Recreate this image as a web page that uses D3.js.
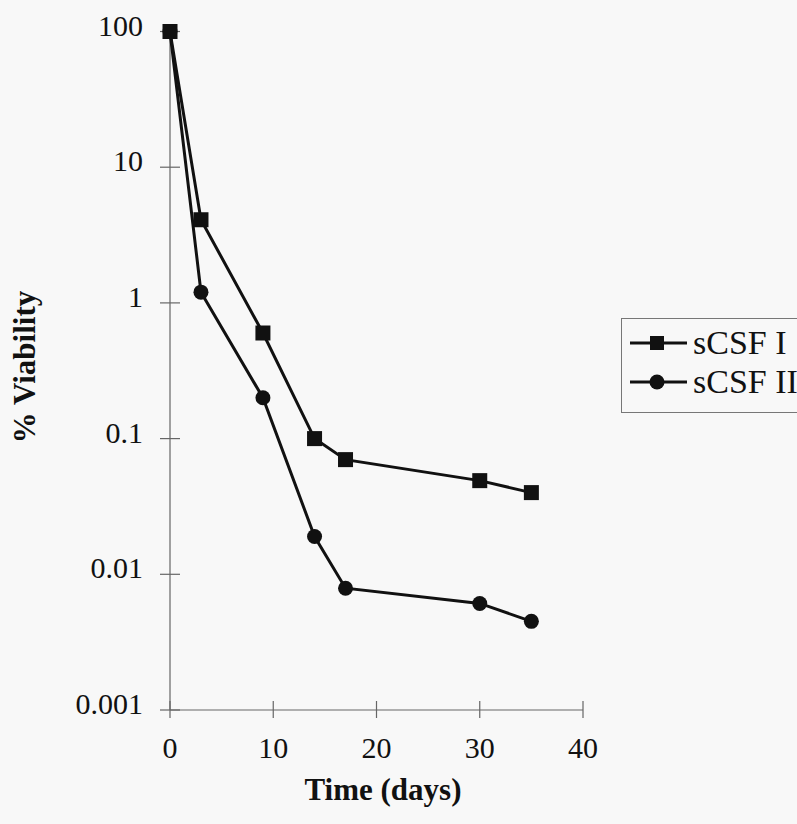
<!DOCTYPE html>
<html>
<head>
<meta charset="utf-8">
<script src="https://cdn.jsdelivr.net/npm/d3@7"></script>
<style>
  body { margin: 0; background: #f8f8f8; }
  svg { display: block; }
  text { font-family: "Liberation Serif", "Times New Roman", serif; fill: #111; }
</style>
</head>
<body>
<div class="chart"></div>
<script>
"use strict";

var days = [0, 3, 9, 14, 17, 30, 35];
var csf1 = [100, 4.1, 0.6, 0.1, 0.07, 0.049, 0.040];
var csf2 = [100, 1.2, 0.2, 0.019, 0.0079, 0.0061, 0.0045];
var seriesNames = ["sCSF I", "sCSF II"];
var xTicks = [0, 10, 20, 30, 40];
var yTicks = [100, 10, 1, 0.1, 0.01, 0.001];
var yTickLabels = ["100", "10", "1", "0.1", "0.01", "0.001"];

var width = 797,
    height = 824;

var svg = d3.select(".chart")
          .append("svg")
          .attr("width", width)
          .attr("height", height);

var x = d3.scaleLinear().domain([0, 40]).range([170, 583]);
var y = d3.scaleLog().domain([0.001, 100]).range([710, 31.5]);

// axes, drawn by hand-ish to get the crossing ticks of the original
var axisColor = "#666";

svg.append("line")
    .attr("x1", x(0)).attr("x2", x(0))
    .attr("y1", y(100)).attr("y2", y(0.001))
    .style("stroke", axisColor).style("stroke-width", 1.2);

svg.append("line")
    .attr("x1", x(0)).attr("x2", x(40))
    .attr("y1", y(0.001)).attr("y2", y(0.001))
    .style("stroke", axisColor).style("stroke-width", 1.2);

svg.append("g")
    .selectAll("line")
    .data(yTicks)
    .enter().append("line")
        .attr("x1", x(0) - 10).attr("x2", x(0) + 10)
        .attr("y1", function(d){ return y(d); })
        .attr("y2", function(d){ return y(d); })
        .style("stroke", axisColor).style("stroke-width", 1.2);

svg.append("g")
    .selectAll("text")
    .data(yTicks)
    .enter().append("text")
        .attr("x", 143)
        .attr("y", function(d){ return y(d) + 4; })
        .attr("text-anchor", "end")
        .style("font-size", "30px")
        .text(function(d, i){ return yTickLabels[i]; });

svg.append("g")
    .selectAll("line")
    .data(xTicks)
    .enter().append("line")
        .attr("x1", function(d){ return x(d); })
        .attr("x2", function(d){ return x(d); })
        .attr("y1", y(0.001) - 9).attr("y2", y(0.001) + 8)
        .style("stroke", axisColor).style("stroke-width", 1.2);

svg.append("g")
    .selectAll("text")
    .data(xTicks)
    .enter().append("text")
        .attr("x", function(d){ return x(d); })
        .attr("y", 758)
        .attr("text-anchor", "middle")
        .style("font-size", "30px")
        .text(function(d){ return d; });

// axis titles
svg.append("text")
    .attr("x", 383).attr("y", 800)
    .attr("text-anchor", "middle")
    .style("font-size", "31px").style("font-weight", "bold")
    .text("Time (days)");

svg.append("text")
    .attr("transform", "translate(35,367) rotate(-90)")
    .attr("text-anchor", "middle")
    .style("font-size", "31px").style("font-weight", "bold")
    .text("% Viability");

// data lines
var line = d3.line()
    .x(function(d){ return x(d[0]); })
    .y(function(d){ return y(d[1]); });

var pts1 = d3.zip(days, csf1),
    pts2 = d3.zip(days, csf2);

svg.append("path")
    .datum(pts2)
    .attr("d", line)
    .style("fill", "none").style("stroke", "#111").style("stroke-width", 3);

svg.append("path")
    .datum(pts1)
    .attr("d", line)
    .style("fill", "none").style("stroke", "#111").style("stroke-width", 3);

svg.append("g")
    .selectAll("circle")
    .data(pts2)
    .enter().append("circle")
        .attr("cx", function(d){ return x(d[0]); })
        .attr("cy", function(d){ return y(d[1]); })
        .attr("r", 7.5)
        .style("fill", "#111");

svg.append("g")
    .selectAll("rect")
    .data(pts1)
    .enter().append("rect")
        .attr("x", function(d){ return x(d[0]) - 7.5; })
        .attr("y", function(d){ return y(d[1]) - 7.5; })
        .attr("width", 15).attr("height", 15)
        .style("fill", "#111");

// legend
var legend = svg.append("g");

legend.append("rect")
    .attr("x", 621.5).attr("y", 318.5)
    .attr("width", 190).attr("height", 94)
    .style("fill", "none").style("stroke", "#777").style("stroke-width", 1);

var rows = legend.selectAll("g")
    .data(seriesNames)
    .enter().append("g")
        .attr("transform", function(d, i){ return "translate(0," + (i === 0 ? 343 : 382) + ")"; });

rows.append("line")
    .attr("x1", 630).attr("x2", 687)
    .attr("y1", 0).attr("y2", 0)
    .style("stroke", "#111").style("stroke-width", 3);

rows.filter(function(d, i){ return i === 0; })
    .append("rect")
        .attr("x", 650).attr("y", -7)
        .attr("width", 14).attr("height", 14)
        .style("fill", "#111");

rows.filter(function(d, i){ return i === 1; })
    .append("circle")
        .attr("cx", 657).attr("cy", 0)
        .attr("r", 7.5)
        .style("fill", "#111");

rows.append("text")
    .attr("x", 693).attr("y", 11)
    .style("font-size", "34px")
    .text(function(d){ return d; });
</script>
</body>
</html>
